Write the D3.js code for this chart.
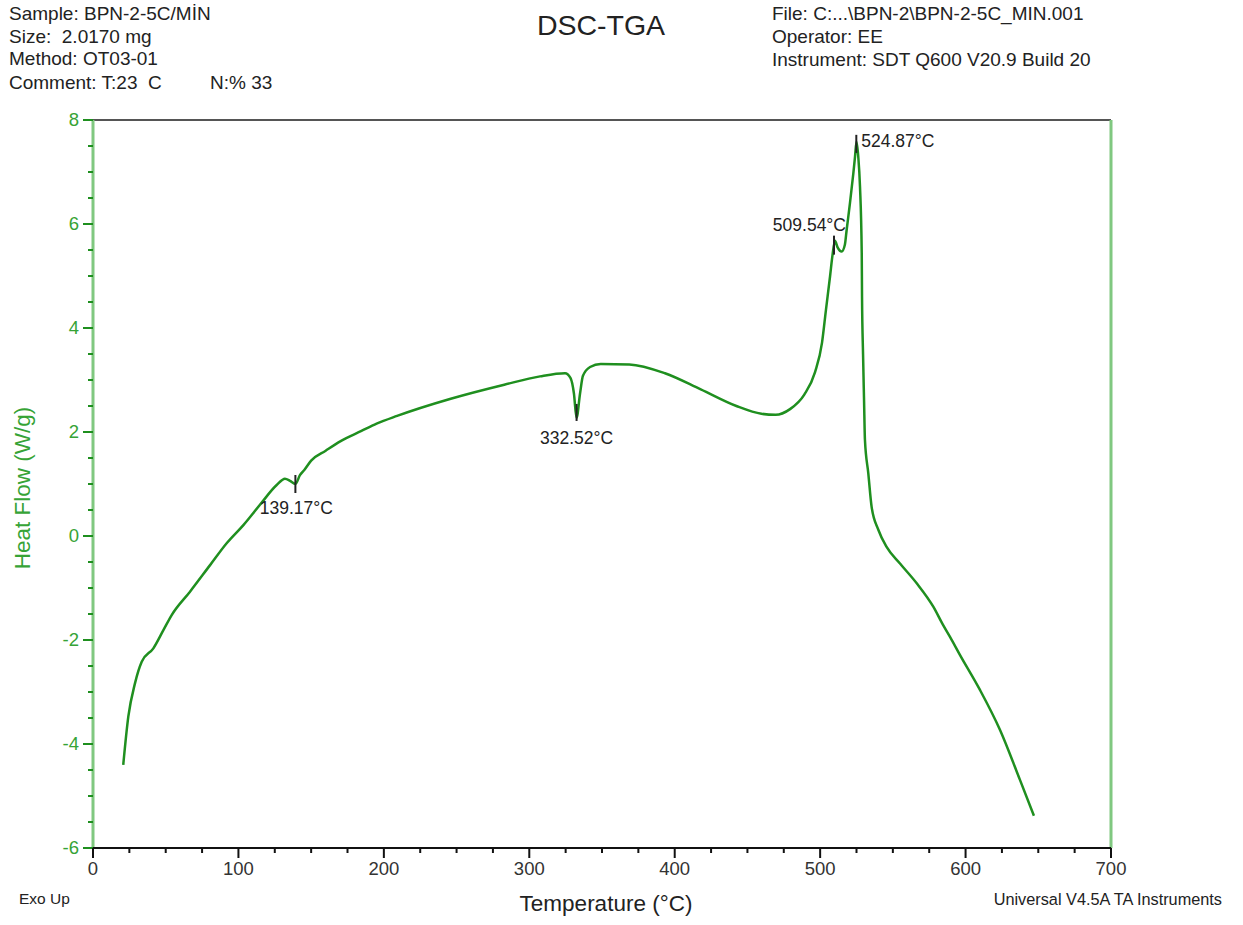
<!DOCTYPE html>
<html><head><meta charset="utf-8">
<script src="https://cdn.jsdelivr.net/npm/d3@7"></script>
<style>
body{margin:0;background:#fff;}
svg{font-family:Arial,"Liberation Sans",sans-serif;}
</style></head>
<body>
<svg id="c" width="1243" height="925"></svg>
<script>
// ---- data ----
const temperature = [20.8,24.3,28.9,33.5,41.5,48.4,54.1,66.7,80.5,91.9,103.4,114.8,126.3,132,135.5,139.2,142.3,145.3,150,160,170,184.6,195,209.1,246,282.8,307.4,324.6,328.3,330.7,332.5,334.9,336.9,341.8,349.1,368.8,393.3,417.9,442.4,459.6,469.4,479.3,489.1,496.5,501.3,504,506.8,508.5,510.2,512,514.8,517,518.2,520.5,522.8,524,525,526.2,527.4,528.6,528.8,529.5,530.2,530.8,533.1,535.4,540,545.7,554.9,566.4,577.8,584.5,589.3,596.2,609.9,623.7,637.4,647];
const heatFlow    = [-4.40,-3.47,-2.83,-2.42,-2.16,-1.81,-1.52,-1.07,-0.56,-0.14,0.21,0.60,0.98,1.10,1.06,1.00,1.17,1.27,1.45,1.64,1.82,2.02,2.16,2.31,2.64,2.91,3.07,3.13,3.04,2.74,2.27,2.74,3.08,3.25,3.31,3.30,3.13,2.82,2.50,2.35,2.33,2.44,2.72,3.15,3.72,4.35,4.99,5.40,5.68,5.55,5.47,5.60,5.88,6.40,6.97,7.30,7.58,7.30,6.72,5.44,4.60,3.50,2.60,1.85,1.21,0.56,0.12,-0.21,-0.53,-0.91,-1.36,-1.71,-1.94,-2.29,-2.96,-3.73,-4.69,-5.38];
const peakTemps  = [139.17, 332.52, 509.54, 524.87];
const peakHF     = [1.00, 2.27, 5.68, 7.58];
const peakLabels = ["139.17°C", "332.52°C", "509.54°C", "524.87°C"];
const xTicks = [0,100,200,300,400,500,600,700];
const yTicks = [-6,-4,-2,0,2,4,6,8];
const headerLeft  = ["Sample: BPN-2-5C/MİN","Size:  2.0170 mg","Method: OT03-01","Comment: T:23  C"];
const headerLeftExtra = "N:% 33";
const headerRight = ["File: C:...\\BPN-2\\BPN-2-5C_MIN.001","Operator: EE","Instrument: SDT Q600 V20.9 Build 20"];

// ---- layout ----
const svg = d3.select("#c");
const L=93, R=1111, T=120, B=848;
const x = d3.scaleLinear().domain([0,700]).range([L,R]);
const y = d3.scaleLinear().domain([-6,8]).range([B,T]);
const green="#1f8f1f", axisGreen="#80c880", labGreen="#36a336";

// header text
svg.append("g").selectAll("text").data(headerLeft).join("text")
  .attr("x",9).attr("y",(d,i)=>[20,43,65,89][i]).attr("font-size",19).attr("fill","#222")
  .style("white-space","pre").text(d=>d);
svg.append("text").attr("x",210).attr("y",89).attr("font-size",19).attr("fill","#222").text(headerLeftExtra);
svg.append("g").selectAll("text").data(headerRight).join("text")
  .attr("x",772).attr("y",(d,i)=>[20,43,66][i]).attr("font-size",19).attr("fill","#222")
  .text(d=>d);
svg.append("text").attr("x",601).attr("y",35).attr("text-anchor","middle")
  .attr("font-size",28.5).attr("fill","#222").text("DSC-TGA");

// frame: top and right
svg.append("line").attr("x1",L).attr("x2",R).attr("y1",T).attr("y2",T).attr("stroke","#555").attr("stroke-width",2);
svg.append("line").attr("x1",R).attr("x2",R).attr("y1",T).attr("y2",B).attr("stroke",axisGreen).attr("stroke-width",3);

// y axis
svg.append("line").attr("x1",L).attr("x2",L).attr("y1",T).attr("y2",B).attr("stroke",axisGreen).attr("stroke-width",3);
const yMinor = d3.range(-6,8.01,0.5);
svg.append("g").selectAll("line").data(yMinor).join("line")
  .attr("x1",d=>yTicks.includes(d)?L-10:L-5).attr("x2",L).attr("y1",d=>y(d)).attr("y2",d=>y(d))
  .attr("stroke",green).attr("stroke-width",2);
svg.append("g").selectAll("text").data(yTicks).join("text")
  .attr("x",L-14).attr("y",d=>y(d)+6).attr("text-anchor","end").attr("font-size",18.5)
  .attr("fill",labGreen).text(d=>d);

// x axis
const xMinor = d3.range(0,700.01,25);
svg.append("line").attr("x1",L).attr("x2",R).attr("y1",B).attr("y2",B).attr("stroke","#111").attr("stroke-width",2);
svg.append("g").selectAll("line").data(xMinor).join("line")
  .attr("x1",d=>x(d)).attr("x2",d=>x(d)).attr("y1",B).attr("y2",d=>xTicks.includes(d)?B+10:B+5)
  .attr("stroke","#111").attr("stroke-width",2);
svg.append("g").selectAll("text").data(xTicks).join("text")
  .attr("x",d=>x(d)).attr("y",875).attr("text-anchor","middle").attr("font-size",18.5)
  .attr("fill","#333").text(d=>d);

// axis titles
svg.append("text").attr("x",606).attr("y",911).attr("text-anchor","middle").attr("font-size",22.5)
  .attr("fill","#222").text("Temperature (°C)");
svg.append("text").attr("transform","translate(30,488) rotate(-90)").attr("text-anchor","middle")
  .attr("font-size",22.5).attr("fill",labGreen).text("Heat Flow (W/g)");
svg.append("text").attr("x",19).attr("y",904).attr("font-size",15.5).attr("fill","#222").text("Exo Up");
svg.append("text").attr("x",1222).attr("y",905).attr("text-anchor","end").attr("font-size",16.3).attr("fill","#222").text("Universal V4.5A TA Instruments");

// curve
const pts = temperature.map((t,i)=>[t,heatFlow[i]]);
svg.append("path").datum(pts)
  .attr("d",d3.line().x(d=>x(d[0])).y(d=>y(d[1])).curve(d3.curveMonotoneX))
  .attr("fill","none").attr("stroke",green).attr("stroke-width",2.5).attr("stroke-linejoin","round");

// peak annotations
const place = [
  {t0:-9,t1:9, dx:1, dy:30, anchor:"middle"},
  {t0:-14,t1:3, dx:0, dy:26, anchor:"middle"},
  {t0:-5,t1:14, dx:12, dy:-10, anchor:"end"},
  {t0:-7,t1:11, dx:5, dy:5, anchor:"start"}
];
peakTemps.forEach((pt,i)=>{
  const px=x(pt), py=y(peakHF[i]), p=place[i];
  svg.append("line").attr("x1",px).attr("x2",px).attr("y1",py+p.t0).attr("y2",py+p.t1)
    .attr("stroke","#222").attr("stroke-width",2);
  svg.append("text").attr("x",px+p.dx).attr("y",py+p.dy).attr("text-anchor",p.anchor)
    .attr("font-size",17.5).attr("fill","#222").text(peakLabels[i]);
});
</script>
</body></html>
